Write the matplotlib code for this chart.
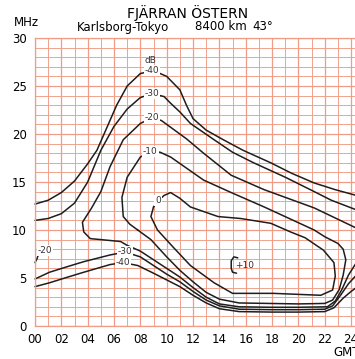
import matplotlib
matplotlib.use("Agg")
import matplotlib.pyplot as plt

plt.rcParams['font.family'] = ['Liberation Sans Narrow', 'DejaVu Sans']

# hour ticks / MHz ticks
hour_ticks = list(range(0, 25, 2))
hour_labels = ["%02d" % h for h in hour_ticks]
mhz_ticks = list(range(0, 31, 5))

# contours (hour GMT, MHz)
m40_top_h = [0, 1, 2, 3, 4, 4.7, 5.5, 6.2, 7, 8, 9, 10, 11, 11.5, 12, 13, 14.3, 15.8, 17.9, 19.5, 21.2, 22.8, 24.4]
m40_top_f = [12.7, 13.1, 13.9, 15.1, 16.9, 18.3, 20.8, 23.0, 25.0, 26.3, 26.6, 26.0, 24.6, 23.0, 21.6, 20.4, 19.4, 18.3, 17.0, 15.9, 14.9, 14.2, 13.6]

m30_top_h = [0, 1, 2, 3, 4, 5, 6, 7, 8, 8.9, 9.8, 10.3, 11, 11.8, 13.6, 15, 16.6, 19, 21.2, 22.5, 24.4]
m30_top_f = [11.0, 11.2, 11.7, 12.8, 15.0, 18.3, 20.8, 22.6, 23.8, 24.2, 23.9, 23.2, 22.3, 21.1, 19.4, 18.1, 17.0, 15.5, 14.0, 13.1, 12.1]

m20_h = [24.4, 23.8, 23.3, 22.8, 22.2, 20, 18, 15.5, 14, 13, 12, 11, 10, 9, 8, 7, 6.5, 5.0, 4.2, 3.7, 3.6, 4.3, 5.0, 5.7, 6.7, 8.0, 8.9, 9.6, 10.3, 11.5, 12.8, 14.9, 17.4, 21.2, 24.4]
m20_f = [6.6, 5.3, 3.8, 2.6, 2.0, 1.95, 1.95, 2.0, 2.3, 3.0, 4.0, 5.1, 6.0, 6.9, 7.8, 8.4, 8.8, 9.0, 9.1, 9.8, 10.8, 12.3, 14.0, 16.6, 19.4, 21.1, 21.7, 21.4, 20.7, 19.5, 18.0, 15.7, 14.2, 12.3, 10.2]

m20_edge_h = [0, 0.15, 0.3]
m20_edge_f = [6.6, 7.0, 7.6]

m10_h = [7.8, 8.8, 10.0, 11.0, 12, 13, 14, 15.5, 20, 22, 22.6, 23.1, 23.4, 23.6, 23.4, 23.0, 22, 21.2, 17.4, 14.9, 12.8, 10.3, 9.5, 8.8, 8.0, 7.0, 6.6, 6.7, 7.2, 7.8]
m10_f = [10.0, 9.0, 7.2, 5.8, 4.6, 3.5, 2.8, 2.4, 2.3, 2.35, 2.7, 3.8, 5.3, 6.9, 8.0, 8.6, 9.3, 10.0, 12.4, 13.9, 15.2, 17.6, 18.1, 18.2, 17.6, 15.5, 13.4, 11.4, 10.6, 10.0]

p0_h = [9.0, 9.4, 9.8, 10.3, 11.0, 11.8, 13.9, 15.6, 17.9, 19.4, 20.5, 21.9, 22.7, 22.8, 22.6, 21.7, 18.1, 15.0, 13.6, 11.8, 10.5, 9.3, 8.8, 9.0]
p0_f = [12.4, 13.1, 13.6, 13.9, 13.3, 12.4, 11.4, 11.2, 10.7, 9.8, 9.2, 7.9, 6.6, 5.2, 3.75, 3.2, 3.4, 3.4, 4.5, 6.3, 8.2, 10.0, 11.4, 12.4]

p10_h = [15.4, 15.1, 14.9, 14.9, 15.0, 15.3]
p10_f = [7.1, 7.2, 6.8, 6.0, 5.6, 5.5]

m30_low_h = [0, 1.1, 2.5, 3.7, 5.7, 6.85, 8.0, 9.0, 10.0, 11, 12, 13, 14, 15.5, 18, 20, 22, 22.6, 23.2, 23.8, 24.4]
m30_low_f = [4.9, 5.6, 6.2, 6.7, 7.4, 7.7, 7.2, 6.3, 5.4, 4.6, 3.6, 2.7, 2.1, 1.75, 1.7, 1.7, 1.75, 2.1, 3.2, 4.4, 5.3]

m40_low_h = [0, 1.1, 2.5, 3.7, 5.7, 6.7, 7.8, 9.0, 10.0, 11, 12, 13, 14, 15.5, 18, 20, 22, 22.7, 23.4, 24.0, 24.4]
m40_low_f = [4.1, 4.5, 5.1, 5.6, 6.4, 6.6, 6.3, 5.5, 4.8, 4.1, 3.2, 2.4, 1.8, 1.5, 1.45, 1.45, 1.5, 1.9, 2.9, 3.6, 4.0]

# level labels: text, hour, MHz
level_labels = [("dB", 8.75, 27.7), ("-40", 8.9, 26.6), ("-30", 8.9, 24.2), ("-20", 8.9, 21.7),
                ("-10", 8.75, 18.2), ("0", 9.35, 13.1), ("-30", 6.85, 7.8), ("-40", 6.7, 6.6),
                ("-20", 0.75, 7.9), ("+10", 15.9, 6.3)]

grid_red = '#f09c86'
ink = '#1e1e1e'

fig = plt.figure(figsize=(3.55, 3.59), dpi=100)
fig.patch.set_facecolor('white')
ax = fig.add_axes([35 / 355, 33 / 359, 320 / 355, 288 / 359])
ax.set_xlim(0, 320 / 13.17)
ax.set_ylim(0, 30)

ax.set_xticks(hour_ticks)
ax.set_xticklabels(hour_labels)
ax.set_xticks(range(0, 25), minor=True)
ax.set_yticks(mhz_ticks)
ax.set_yticks(range(0, 31), minor=True)
ax.grid(which='major', color=grid_red, lw=0.9)
ax.grid(which='minor', color=grid_red, lw=0.65)
ax.set_axisbelow(True)
ax.tick_params(which='both', length=0)
ax.tick_params(axis='x', pad=5, labelsize=8.5)
ax.tick_params(axis='y', pad=6, labelsize=8.5)
for s in ['left', 'bottom', 'top']:
    ax.spines[s].set_color(grid_red)
    ax.spines[s].set_linewidth(0.9)
ax.spines['right'].set_visible(False)

for h, f in [(m40_top_h, m40_top_f), (m30_top_h, m30_top_f), (m20_h, m20_f),
             (m20_edge_h, m20_edge_f), (m10_h, m10_f), (p0_h, p0_f), (p10_h, p10_f),
             (m30_low_h, m30_low_f), (m40_low_h, m40_low_f)]:
    ax.plot(h, f, color=ink, lw=1.1, solid_capstyle='round', clip_on=False)

for txt, h, f in level_labels:
    ax.text(h, f, txt, fontsize=6.5, ha='center', va='center', color='#333333',
            bbox=dict(boxstyle='square,pad=0.1', fc='white', ec='none') if txt not in ("dB", "+10") else None)

fig.text(188 / 355, 1 - 13 / 359, "FJÄRRAN ÖSTERN", ha='center', va='center', fontsize=10)
fig.text(77 / 355, 1 - 27 / 359, "Karlsborg-Tokyo", ha='left', va='center', fontsize=8.5)
fig.text(195 / 355, 1 - 27 / 359, "8400 km", ha='left', va='center', fontsize=8.5)
fig.text(252 / 355, 1 - 27 / 359, "43°", ha='left', va='center', fontsize=8.5)
fig.text(14 / 355, 1 - 22 / 359, "MHz", ha='left', va='center', fontsize=8.5)
fig.text(333 / 355, 1 - 352 / 359, "GMT", ha='left', va='center', fontsize=8.5)

fig.savefig('out.png', dpi=100)
